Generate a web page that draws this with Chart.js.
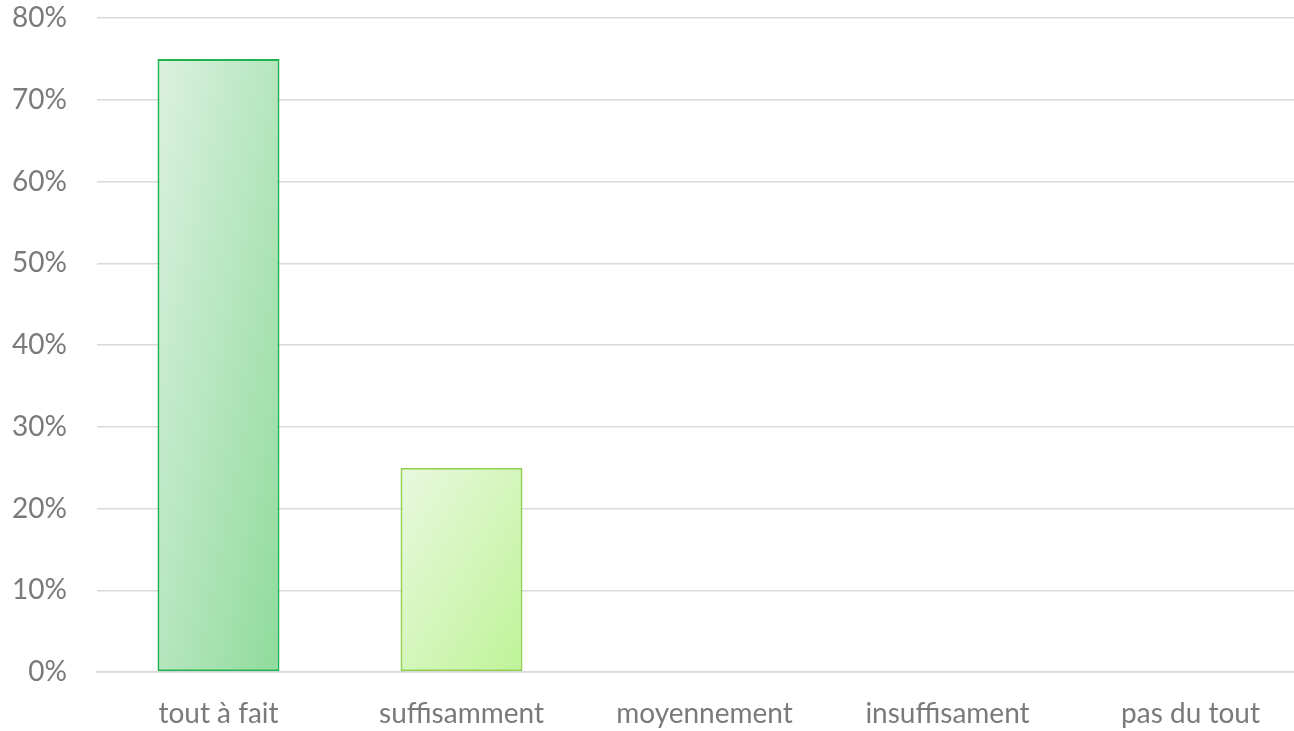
<!DOCTYPE html>
<html>
<head>
<meta charset="utf-8">
<script src="https://cdn.jsdelivr.net/npm/chart.js@4"></script>
<style>
  html, body { margin: 0; padding: 0; background: #fff; overflow: hidden; }
  #wrap { width: 1312px; height: 731px; }
</style>
</head>
<body>
<div id="wrap"><canvas id="c"></canvas></div>
<script>
const categories = ['tout à fait', 'suffisamment', 'moyennement', 'insuffisament', 'pas du tout'];
const values = [75, 25, 0, 0, 0];
const yTicks = [0, 10, 20, 30, 40, 50, 60, 70, 80];

// couleurs des barres (début / fin du dégradé, bordure)
const fillStart = ['#dcf1df', '#e8f9df', '#dcf1df', '#dcf1df', '#dcf1df'];
const fillEnd = ['#8fdb9c', '#bff398', '#8fdb9c', '#8fdb9c', '#8fdb9c'];
const borders = ['#1fb350', '#92d050', '#1fb350', '#1fb350', '#1fb350'];

const BAR_PCT = 0.502;

// dégradé diagonal "à l'échelle de la forme" (coin haut-gauche -> coin bas-droit)
function barGradient(context) {
  const chart = context.chart;
  const i = context.dataIndex;
  const xs = chart.scales.x, ys = chart.scales.y;
  if (!xs || !ys || context.type !== 'data') return fillEnd[i];
  const cw = xs.width / categories.length;
  const cx = xs.getPixelForValue(i);
  const x0 = cx - cw * BAR_PCT / 2;
  const w = cw * BAR_PCT;
  const y0 = ys.getPixelForValue(values[i]);
  const h = ys.getPixelForValue(0) - y0;
  if (![x0, w, y0, h].every(Number.isFinite) || w <= 0 || h <= 0) return fillEnd[i];
  const t = 2 / (1 / (w * w) + 1 / (h * h));
  const g = chart.ctx.createLinearGradient(x0, y0, x0 + t / w, y0 + t / h);
  g.addColorStop(0, fillStart[i]);
  g.addColorStop(1, fillEnd[i]);
  return g;
}

const font = { family: 'Lato, "Open Sans", sans-serif', size: 28 };

new Chart(document.getElementById('c'), {
  type: 'bar',
  data: {
    labels: categories,
    datasets: [{
      data: values,
      backgroundColor: barGradient,
      borderColor: borders,
      borderWidth: 2,
      borderSkipped: false,
      barPercentage: BAR_PCT,
      categoryPercentage: 1
    }]
  },
  options: {
    responsive: true,
    maintainAspectRatio: false,
    animation: false,
    layout: { padding: { top: 18, right: 0, left: 0, bottom: 0 } },
    plugins: { legend: { display: false }, tooltip: { enabled: false } },
    scales: {
      x: {
        grid: { display: false, drawTicks: false },
        border: { color: '#d9d9d9', width: 1.5 },
        ticks: { font: font, color: '#7a7a7a', padding: 25, maxRotation: 0 },
        afterFit: (s) => { s.height = 59; s.paddingLeft = 0; s.paddingRight = 0; }
      },
      y: {
        min: 0,
        max: 80,
        afterBuildTicks: (s) => { s.ticks = yTicks.map(v => ({ value: v })); },
        grid: { color: '#d9d9d9', lineWidth: 1.5, drawTicks: false },
        border: { display: false },
        ticks: { font: font, color: '#7a7a7a', padding: 30, callback: (v) => v + '%' },
        afterFit: (s) => { s.width = 97; s.paddingTop = 0; s.paddingBottom = 0; }
      }
    }
  }
});
</script>
</body>
</html>
